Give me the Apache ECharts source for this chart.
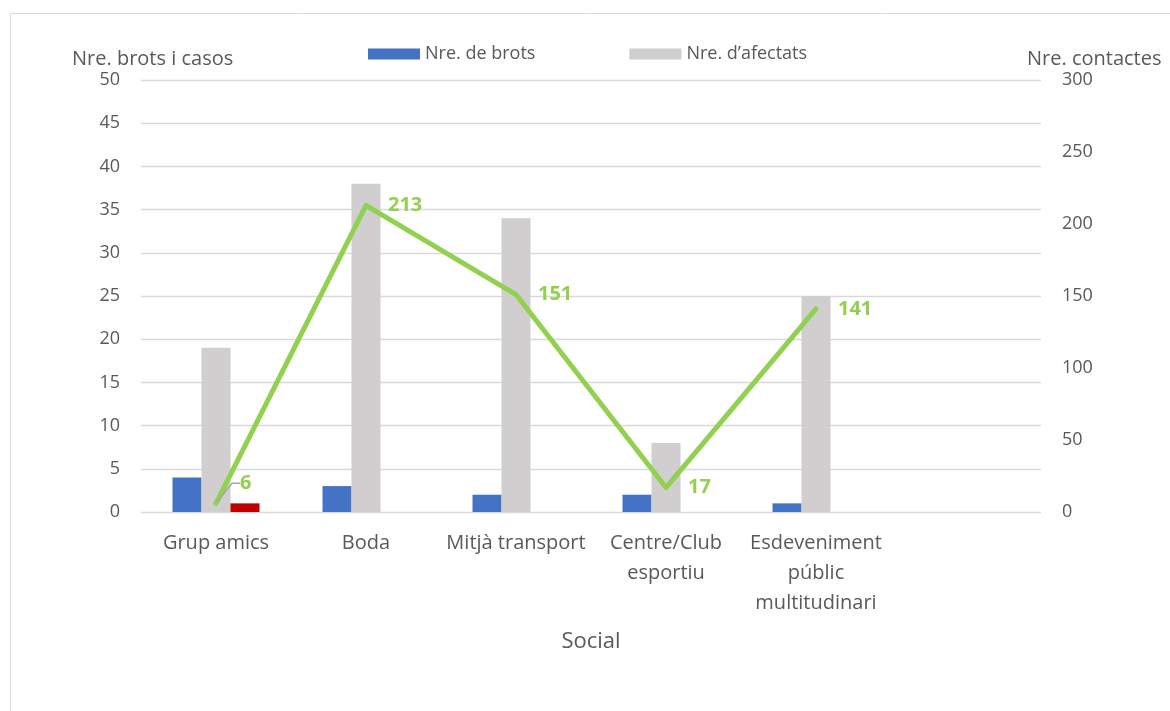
<!DOCTYPE html>
<html>
<head>
<meta charset="utf-8">
<script src="https://cdn.jsdelivr.net/npm/echarts@6/dist/echarts.min.js"></script>
<style>
html,body{margin:0;padding:0;background:#fff;}
#chart{width:1170px;height:711px;}
</style>
</head>
<body>
<div id="chart"></div>
<script>
const categories = ['Grup amics', 'Boda', 'Mitjà transport', 'Centre/Club\nesportiu', 'Esdeveniment\npúblic\nmultitudinari', ''];
const brots = [4, 3, 2, 2, 1, null];
const afectats = [19, 38, 34, 8, 25, null];
const altres = [1, null, null, null, null, null];
const contactes = [6, 213, 151, 17, 141, null];
const leftTicks = { min: 0, max: 50, interval: 5 };
const rightTicks = { min: 0, max: 300, interval: 50 };

const FONT = '"Open Sans", "Noto Sans", sans-serif';
const TXT = '#595959';
const chart = echarts.init(document.getElementById('chart'), null, { renderer: 'canvas' });

const contactesData = contactes.map(function (v, i) {
  return i === 0 ? { value: v, labelLine: { show: true } } : v;
});

chart.setOption({
  backgroundColor: '#fff',
  animation: false,
  textStyle: { fontFamily: FONT, color: TXT },
  graphic: [{
    type: 'rect', left: 8, top: 11, shape: { width: 1200, height: 760 },
    style: { fill: 'none', stroke: '#d9d9d9', lineWidth: 1 }, silent: true
  }],
  title: [
    { text: 'Nre. brots i casos', left: 67, top: 44, textStyle: { fontFamily: FONT, fontSize: 20, fontWeight: 'normal', color: TXT } },
    { text: 'Nre. contactes', left: 1022, top: 44, textStyle: { fontFamily: FONT, fontSize: 20, fontWeight: 'normal', color: TXT } }
  ],
  legend: {
    data: ['Nre. de brots', 'Nre. d\u2019afectats'],
    top: 40, left: 363,
    itemWidth: 52, itemHeight: 11, itemGap: 94,
    icon: 'rect',
    textStyle: { fontFamily: FONT, fontSize: 18, color: TXT }
  },
  grid: { left: 141, right: 129, top: 80, bottom: 199 },
  xAxis: {
    type: 'category',
    data: categories,
    name: 'Social',
    nameLocation: 'middle',
    nameGap: 119,
    nameTextStyle: { fontFamily: FONT, fontSize: 22, color: TXT },
    axisLine: { show: false },
    axisTick: { show: false },
    axisLabel: { fontFamily: FONT, fontSize: 20, color: TXT, margin: 16, lineHeight: 30, interval: 0 }
  },
  yAxis: [{
    type: 'value', min: leftTicks.min, max: leftTicks.max, interval: leftTicks.interval,
    axisLine: { show: false }, axisTick: { show: false },
    axisLabel: { fontFamily: FONT, fontSize: 18, color: TXT, margin: 21 },
    splitLine: { lineStyle: { color: '#d9d9d9', width: 1.3 } }
  }, {
    type: 'value', min: rightTicks.min, max: rightTicks.max, interval: rightTicks.interval,
    axisLine: { show: false }, axisTick: { show: false },
    axisLabel: { fontFamily: FONT, fontSize: 18, color: TXT, margin: 21 },
    splitLine: { show: false }
  }],
  series: [{
    name: 'Nre. de brots', type: 'bar', data: brots, yAxisIndex: 0,
    barWidth: 29, barGap: '0%',
    itemStyle: { color: '#4472C4' }
  }, {
    name: 'Nre. d\u2019afectats', type: 'bar', data: afectats, yAxisIndex: 0,
    barWidth: 29, barGap: '0%',
    itemStyle: { color: '#D0CECE' }
  }, {
    name: 'Altres', type: 'bar', data: altres, yAxisIndex: 0,
    barWidth: 29, barGap: '0%',
    itemStyle: { color: '#C00000' }
  }, {
    name: 'Nre. contactes', type: 'line', data: contactesData, yAxisIndex: 1,
    showSymbol: true, symbol: 'circle', symbolSize: 2, z: 5,
    lineStyle: { color: '#92D050', width: 5, cap: 'round', join: 'round' },
    itemStyle: { color: '#92D050' },
    label: {
      show: true, position: 'right', distance: 21,
      fontFamily: FONT, fontSize: 20, fontWeight: 'bold', color: '#92D050'
    },
    labelLine: { show: false, length2: 8, lineStyle: { color: '#a5a5a5', width: 1.5 } },
    labelLayout: function (p) {
      if (p.dataIndex === 0) { return { dx: 2, dy: -20 }; }
      return {};
    }
  }]
});
</script>
</body>
</html>
